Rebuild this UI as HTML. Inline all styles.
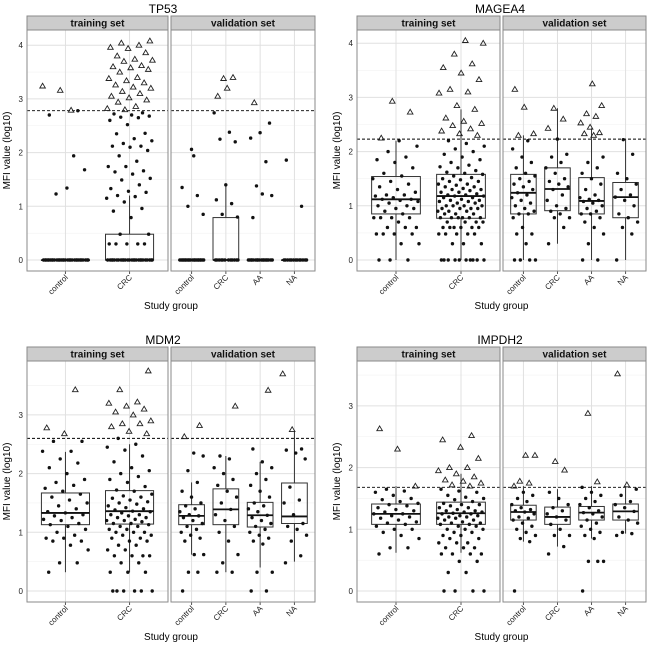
<!DOCTYPE html>
<html><head><meta charset="utf-8">
<style>
html,body{margin:0;padding:0;background:#fff;}
svg{display:block;font-family:"Liberation Sans",Arial,sans-serif;}
</style></head>
<body>
<svg id="chart" width="650" height="651" viewBox="0 0 650 651" xmlns="http://www.w3.org/2000/svg"></svg>
<script>
const genes = ["TP53","MAGEA4","MDM2","IMPDH2"];
const trainGroups = ["control","CRC"];
const validGroups = ["control","CRC","AA","NA"];
const cutoffs = [2.78,2.23,2.6,1.68];
const yTicksTP53 = [0,1,2,3,4];
const yTicksMAGEA4 = [0,1,2,3,4];
const yTicksMDM2 = [0,1,2,3];
const yTicksIMPDH2 = [0,1,2,3];
// box stats: [q1, median, q3, lowerWhisker, upperWhisker]; order: train control, train CRC, valid control, CRC, AA, NA
const boxTP53 = [[0,0,0,0,0],[0,0,0.48,0,1.2],[0,0,0,0,0],[0,0,0.79,0,1.4],[0,0,0,0,0],[0,0,0,0,0]];
const boxMAGEA4 = [[0.85,1.12,1.54,0,2.2],[0.77,1.18,1.58,0,2.78],[0.85,1.24,1.58,0,2.3],[0.91,1.31,1.7,0.3,2.8],[0.85,1.09,1.52,0,2.43],[0.78,1.16,1.43,0,2.23]];
const boxMDM2 = [[1.13,1.33,1.67,0.32,2.37],[1.14,1.36,1.71,0.32,2.5],[1.13,1.28,1.47,0.62,1.85],[1.13,1.39,1.74,0.32,2.3],[1.09,1.29,1.51,0.4,2.2],[1.15,1.27,1.84,0.5,2.73]];
const boxIMPDH2 = [[1.08,1.25,1.41,0.62,1.7],[1.08,1.26,1.44,0.62,1.9],[1.15,1.28,1.39,0.8,1.7],[1.08,1.2,1.36,0.72,1.65],[1.15,1.27,1.37,0.85,1.7],[1.15,1.29,1.41,0.93,1.7]];
// observed values per group
const ptsTP53 = [
 [0,0,0,0,0,0,0,0,0,0,0,0,0,0,0,0,0,0,0,0,0,0,0,0,0,0,0,0,0,0,1.94,1.23,1.68,1.34,2.7,2.78,3.16,3.24,2.79],
 [0,0,0,0,0,0,0,0,0,0,0,0,0,0,0,0,0,0,0,0,0,0,0,0,0,0,0.3,0.3,0.3,0.3,0.3,0.48,0.48,0.79,0.91,0.96,1.08,1.15,1.18,1.2,1.26,1.28,1.33,1.4,1.49,1.52,1.6,1.64,1.66,1.74,1.74,1.84,1.94,2.04,2.1,2.12,2.12,2.17,2.22,2.26,2.35,2.36,2.52,2.6,2.65,2.66,2.68,2.7,2.72,2.74,2.8,2.82,2.86,2.94,2.98,3.02,3.05,3.1,3.14,3.2,3.22,3.26,3.3,3.34,3.38,3.4,3.5,3.55,3.58,3.6,3.62,3.7,3.72,3.74,3.8,3.86,3.94,3.96,4.0,4.04,4.08],
 [0,0,0,0,0,0,0,0,0,0,0,0,0,0,0,0,0,0,0,0,2.06,1.35,1.2,1.0,0.85,1.94],
 [0,0,0,0,0,0,0,0,0,0,0,0,3.2,3.05,3.4,3.38,2.74,2.38,2.25,2.2,1.4,1.12,1.05,0.85,0.8],
 [0,0,0,0,0,0,0,0,0,0,0,0,0,0,0,0,0,0,2.93,2.55,2.37,2.27,1.83,1.38,1.2,1.23,0.79],
 [0,0,0,0,0,0,0,0,0,0,0,0,0,1.86,1.0]
];
const ptsMAGEA4 = [
 [0,0,0,0.3,0.3,0.48,0.48,0.48,0.48,0.6,0.6,0.6,0.7,0.78,0.78,0.78,0.78,0.85,0.9,0.95,0.95,1.0,1.0,1.05,1.08,1.1,1.12,1.12,1.15,1.18,1.2,1.2,1.25,1.3,1.35,1.4,1.45,1.5,1.55,1.6,1.7,1.8,1.85,1.9,2.0,2.1,2.2,2.25,2.73,2.93],
 [0,0,0,0,0,0,0,0,0,0,0.3,0.3,0.3,0.48,0.48,0.48,0.48,0.48,0.6,0.6,0.6,0.6,0.6,0.6,0.7,0.7,0.7,0.7,0.78,0.78,0.78,0.78,0.78,0.78,0.85,0.85,0.85,0.9,0.9,0.9,0.95,0.95,0.95,0.95,1.0,1.0,1.0,1.0,1.05,1.05,1.08,1.08,1.1,1.1,1.12,1.15,1.15,1.18,1.18,1.2,1.2,1.22,1.25,1.25,1.28,1.3,1.3,1.32,1.35,1.35,1.38,1.4,1.4,1.45,1.45,1.48,1.5,1.52,1.55,1.58,1.6,1.62,1.65,1.7,1.72,1.75,1.8,1.85,1.9,1.95,2.0,2.05,2.1,2.15,2.2,2.3,2.33,2.38,2.42,2.48,2.52,2.56,2.62,2.78,2.85,3.08,3.1,3.15,3.33,3.45,3.55,3.62,3.8,4.0,4.05],
 [0,0,0,0,0.3,0.48,0.48,0.6,0.78,0.85,0.85,0.9,0.95,1.0,1.05,1.1,1.15,1.2,1.24,1.3,1.35,1.4,1.45,1.5,1.55,1.6,1.7,1.8,1.9,2.05,2.2,2.3,2.33,2.82,3.15],
 [0.3,0.6,0.78,0.78,0.85,0.9,0.95,1.0,1.1,1.2,1.3,1.35,1.4,1.45,1.5,1.6,1.7,1.8,1.9,1.95,2.23,2.43,2.6,2.8],
 [0,0,0.3,0.48,0.6,0.7,0.78,0.85,0.85,0.9,0.95,1.0,1.05,1.08,1.1,1.12,1.15,1.2,1.3,1.4,1.5,1.6,1.7,1.8,1.9,2.3,2.33,2.35,2.45,2.53,2.65,2.7,2.85,3.25],
 [0,0.48,0.6,0.7,0.78,0.85,1.0,1.1,1.16,1.2,1.3,1.4,1.5,1.6,1.95,2.22]
];
const ptsMDM2 = [
 [0.32,0.48,0.48,0.7,0.78,0.85,0.85,0.9,0.9,0.95,1.0,1.05,1.1,1.13,1.15,1.2,1.22,1.25,1.28,1.3,1.33,1.35,1.4,1.45,1.5,1.55,1.6,1.65,1.7,1.75,1.8,1.85,1.9,2.0,2.1,2.18,2.25,2.38,2.38,2.55,2.55,2.68,2.78,3.43],
 [0,0,0,0,0,0,0.32,0.32,0.32,0.48,0.48,0.6,0.6,0.6,0.6,0.7,0.7,0.78,0.78,0.85,0.85,0.9,0.9,0.95,0.95,1.0,1.0,1.0,1.05,1.05,1.1,1.1,1.13,1.15,1.15,1.18,1.2,1.2,1.22,1.25,1.25,1.28,1.3,1.3,1.33,1.35,1.36,1.38,1.4,1.42,1.45,1.48,1.5,1.52,1.55,1.58,1.6,1.62,1.65,1.7,1.72,1.78,1.85,1.9,1.95,2.0,2.05,2.1,2.2,2.3,2.4,2.45,2.5,2.6,2.68,2.72,2.8,2.85,2.85,2.9,3.0,3.05,3.1,3.15,3.2,3.22,3.43,3.75],
 [0,0.32,0.32,0.62,0.62,0.85,0.9,0.95,1.0,1.05,1.1,1.15,1.2,1.25,1.28,1.3,1.35,1.4,1.45,1.5,1.6,1.7,1.85,2.05,2.3,2.35,2.63,2.82],
 [0.32,0.32,0.48,0.62,0.85,1.0,1.1,1.2,1.3,1.39,1.5,1.6,1.7,1.8,1.9,2.0,2.1,2.25,2.3,3.15],
 [0,0,0.32,0.32,0.8,0.85,0.9,0.95,1.0,1.05,1.1,1.15,1.2,1.25,1.29,1.35,1.4,1.45,1.5,1.6,1.7,1.8,1.9,2.0,2.1,2.2,2.42,3.42],
 [0.48,0.6,0.85,0.95,1.05,1.1,1.15,1.3,1.5,1.55,1.77,2.25,2.35,2.4,2.42,2.75,3.7]
];
const ptsIMPDH2 = [
 [0.6,0.7,0.7,0.85,0.9,0.95,1.0,1.0,1.05,1.08,1.1,1.12,1.15,1.18,1.2,1.22,1.25,1.25,1.28,1.3,1.32,1.35,1.38,1.4,1.42,1.45,1.48,1.5,1.55,1.6,1.62,1.65,1.7,2.3,2.63],
 [0,0,0,0,0.3,0.3,0.48,0.48,0.6,0.6,0.6,0.6,0.7,0.7,0.7,0.78,0.78,0.78,0.85,0.85,0.9,0.9,0.95,0.95,1.0,1.0,1.0,1.05,1.05,1.08,1.08,1.1,1.1,1.12,1.15,1.15,1.18,1.18,1.2,1.2,1.22,1.22,1.25,1.25,1.26,1.28,1.28,1.3,1.3,1.32,1.35,1.35,1.38,1.4,1.4,1.42,1.45,1.48,1.5,1.52,1.55,1.6,1.62,1.65,1.7,1.72,1.75,1.78,1.8,1.85,1.9,1.95,2.0,2.0,2.15,2.33,2.45,2.52],
 [0,0.8,0.85,0.9,0.95,1.0,1.05,1.1,1.15,1.18,1.2,1.25,1.28,1.3,1.32,1.35,1.4,1.45,1.5,1.55,1.6,1.7,1.75,1.78,2.2,2.2],
 [0.6,0.72,0.9,0.9,1.0,1.08,1.15,1.2,1.25,1.3,1.35,1.4,1.5,1.6,1.96,2.1],
 [0,0.48,0.48,0.48,0.85,0.9,0.95,1.0,1.05,1.1,1.15,1.2,1.25,1.27,1.3,1.35,1.4,1.45,1.5,1.55,1.6,1.68,1.77,2.88],
 [0.9,0.93,0.95,1.1,1.15,1.2,1.29,1.35,1.4,1.45,1.55,1.65,1.72,3.52]
];
const boxes = [boxTP53,boxMAGEA4,boxMDM2,boxIMPDH2];
const points = [ptsTP53,ptsMAGEA4,ptsMDM2,ptsIMPDH2];
const yTicks = [yTicksTP53,yTicksMAGEA4,yTicksMDM2,yTicksIMPDH2];

// layout (not data)
const layouts = [
 {L:[27,168],R:[171,315],st:16,pt:30,pb:271,y0:260,ys:53.7,tx:163,yt:10,xt:309},
 {L:[357,500],R:[503,646],st:16,pt:30,pb:271,y0:260,ys:54.2,tx:500,yt:340,xt:309},
 {L:[27,168],R:[171,315],st:347,pt:361,pb:602,y0:591,ys:58.7,tx:163,yt:10,xt:640},
 {L:[357,500],R:[503,646],st:347,pt:361,pb:602,y0:591,ys:61.7,tx:500,yt:340,xt:640}
];
const NS="http://www.w3.org/2000/svg";
const svg=document.getElementById('chart');
function mk(tag,attrs,parent){const e=document.createElementNS(NS,tag);for(const k in attrs)e.setAttribute(k,attrs[k]);(parent||svg).appendChild(e);return e;}
function jit(i){return ((i*0.6180339887+0.137)%1)-0.5;}

genes.forEach((g,gi)=>{
  const lay=layouts[gi];
  const grp=mk('g',{});
  
  
  const yS=v=>lay.y0-v*lay.ys;
  const t=mk('text',{x:lay.tx,y:lay.st-3,'text-anchor':'middle','font-size':12,fill:'#000'},grp);
  t.textContent=g;
  
  
  const yt=mk('text',{x:0,y:0,'text-anchor':'middle','font-size':10,fill:'#000',transform:`translate(${lay.yt},${(lay.pt+lay.pb)/2}) rotate(-90)`},grp);
  yt.textContent='MFI value (log10)';
  
  
  const xt=mk('text',{x:(lay.L[0]+lay.R[1])/2,y:lay.xt,'text-anchor':'middle','font-size':10,fill:'#000'},grp);
  xt.textContent='Study group';
  
  
  yTicks[gi].forEach(v=>{
    const tl=mk('text',{x:lay.L[0]-4,y:yS(v)+3,'text-anchor':'end','font-size':8,fill:'#222'},grp);
    tl.textContent=v;
    
    
  });
  [[lay.L,trainGroups,'training set',0],[lay.R,validGroups,'validation set',2]].forEach(([X,cats,label,off])=>{
    const pg=mk('g',{},grp);
    
    
    const w=X[1]-X[0], n=cats.length, unit=w/(n+0.2);
    const xc=i=>X[0]+(i+0.6)*unit;
    mk('rect',{x:X[0],y:lay.pt,width:w,height:lay.pb-lay.pt,fill:'#fff'},pg);
    const top=(lay.y0-lay.pt)/lay.ys, bot=(lay.y0-lay.pb)/lay.ys;
    for(let v=Math.ceil(bot*2)/2; v<=top; v+=0.5){
      const major=Math.abs(v-Math.round(v))<1e-6;
      mk('line',{x1:X[0],x2:X[1],y1:yS(v),y2:yS(v),stroke:major?'#e0e0e0':'#f2f2f2','stroke-width':major?1:0.6},pg);
    }
    cats.forEach((c,i)=>mk('line',{x1:xc(i),x2:xc(i),y1:lay.pt,y2:lay.pb,stroke:'#e0e0e0','stroke-width':1},pg));
    const cl=mk('line',{x1:X[0],x2:X[1],y1:yS(cutoffs[gi]),y2:yS(cutoffs[gi]),stroke:'#000','stroke-width':0.9,'stroke-dasharray':'3,2'},pg);
    
    
    cats.forEach((c,i)=>{
      const b=boxes[gi][off+i], cx=xc(i), bw=0.75*unit;
      const bg=mk('g',{},pg);
      
      
      mk('line',{x1:cx,x2:cx,y1:yS(b[3]),y2:yS(b[0]),stroke:'#333','stroke-width':1},bg);
      mk('line',{x1:cx,x2:cx,y1:yS(b[2]),y2:yS(b[4]),stroke:'#333','stroke-width':1},bg);
      mk('rect',{x:cx-bw/2,y:yS(b[2]),width:bw,height:Math.max(0.5,yS(b[0])-yS(b[2])),fill:'none',stroke:'#333','stroke-width':1},bg);
      mk('line',{x1:cx-bw/2,x2:cx+bw/2,y1:yS(b[1]),y2:yS(b[1]),stroke:'#111','stroke-width':1.8},bg);
      const pts=points[gi][off+i];
      pts.forEach((v,k)=>{
        const px=cx+jit(k)*0.8*unit*0.9, py=yS(v);
        if(v>cutoffs[gi]){
          const tr=mk('path',{d:`M${px},${py-2.8}L${px+2.8},${py+2}L${px-2.8},${py+2}Z`,fill:'none',stroke:'#222','stroke-width':0.9},bg);
          
          
        } else {
          const d=mk('circle',{cx:px,cy:py,r:1.7,fill:'#111'},bg);
          
          
        }
      });
      mk('line',{x1:cx,x2:cx,y1:lay.pb,y2:lay.pb+3,stroke:'#555','stroke-width':1},pg);
      const tl=mk('text',{x:0,y:0,'text-anchor':'end','font-size':8,fill:'#222',transform:`translate(${cx+3},${lay.pb+7}) rotate(-45)`},pg);
      tl.textContent=c;
      
      
    });
    mk('rect',{x:X[0],y:lay.pt,width:w,height:lay.pb-lay.pt,fill:'none',stroke:'#8a8a8a','stroke-width':1},pg);
    const sr=mk('rect',{x:X[0],y:lay.st,width:w,height:lay.pt-lay.st,fill:'#cccccc',stroke:'#8a8a8a','stroke-width':1},pg);
    
    
    const stx=mk('text',{x:X[0]+w/2,y:lay.pt-3.5,'text-anchor':'middle','font-size':10,'font-weight':'bold',fill:'#111'},pg);
    stx.textContent=label;
    
    
  });
});
</script>
</body></html>
